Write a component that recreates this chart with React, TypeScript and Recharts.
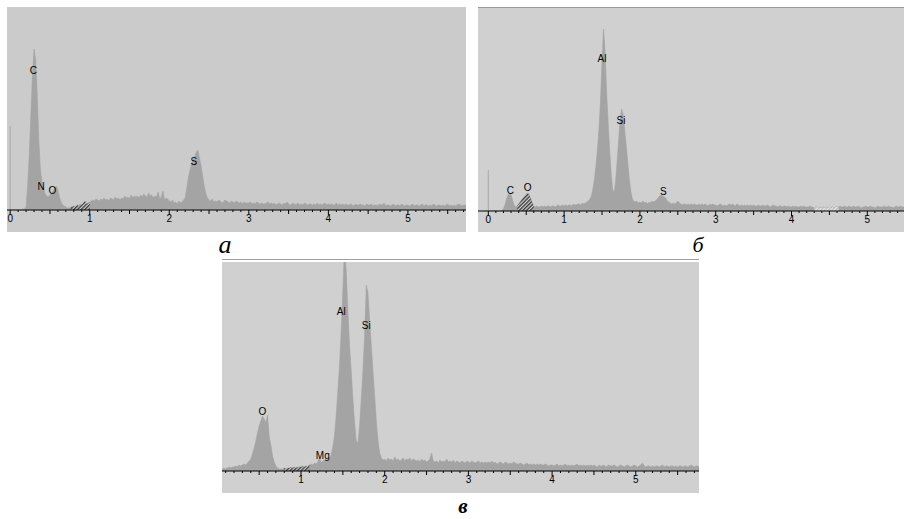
import { AreaChart, Area, XAxis, YAxis, ReferenceDot, ReferenceLine } from 'recharts'

// channel width of the spectra, keV
const STEP = 0.02

// а — counts per channel, 0.00 .. 5.78 keV (10 channels per row)
const countsA = [
  0, 0, 0, 0, 0, 0, 0, 0, 1, 1,
  3, 25, 55, 95, 135, 161, 150, 115, 70, 40,
  28, 22, 16, 14, 13, 15, 17, 19, 22, 24,
  20, 13, 8, 5, 4, 3, 2, 2, 3, 3,
  4, 3, 5, 4, 6, 5, 7, 9, 6, 7,
  8, 9, 10, 9, 11, 10, 9, 11, 10, 12,
  10, 11, 9, 12, 11, 10, 13, 11, 12, 10,
  12, 11, 14, 12, 13, 11, 15, 12, 14, 13,
  14, 12, 15, 13, 16, 14, 13, 17, 14, 15,
  12, 14, 13, 18, 11, 13, 19, 10, 12, 11,
  9, 8, 10, 7, 8, 6, 9, 7, 8, 10,
  12, 22, 32, 40, 46, 50, 54, 58, 60, 52,
  44, 34, 24, 16, 12, 10, 9, 11, 8, 9,
  8, 10, 9, 7, 8, 10, 9, 8, 7, 9,
  8, 7, 9, 8, 7, 8, 6, 8, 7, 7,
  7, 8, 6, 7, 6, 8, 7, 6, 7, 6,
  6, 7, 8, 6, 7, 6, 7, 5, 6, 7,
  6, 5, 7, 6, 8, 6, 5, 6, 7, 5,
  6, 7, 5, 6, 5, 7, 6, 5, 6, 6,
  5, 6, 5, 7, 5, 6, 5, 6, 7, 5,
  6, 5, 6, 5, 5, 7, 5, 6, 5, 6,
  5, 6, 5, 5, 6, 5, 4, 6, 5, 5,
  6, 5, 5, 4, 6, 5, 5, 6, 4, 5,
  5, 4, 6, 5, 5, 7, 4, 5, 5, 4,
  5, 6, 4, 5, 5, 4, 6, 5, 4, 5,
  5, 4, 5, 6, 4, 5, 5, 4, 5, 6,
  4, 5, 5, 4, 5, 4, 6, 5, 4, 5,
  5, 4, 5, 4, 5, 6, 4, 5, 4, 5,
  4, 5, 6, 5, 4, 5, 5, 4, 5, 5,
]

// б — 0.00 .. 5.58 keV
const countsB = [
  0, 0, 0, 0, 0, 0, 0, 0, 0, 1,
  2, 6, 12, 16, 18, 16, 11, 6, 4, 5,
  7, 9, 11, 13, 15, 17, 18, 16, 12, 8,
  5, 4, 5, 4, 4, 5, 4, 5, 4, 5,
  5, 4, 5, 5, 4, 5, 6, 5, 5, 6,
  5, 6, 5, 6, 6, 5, 7, 6, 6, 7,
  7, 6, 8, 7, 8, 9, 10, 12, 15, 22,
  32, 45, 62, 82, 110, 150, 182, 160, 120, 90,
  62, 38, 22, 18, 30, 50, 72, 92, 102, 96,
  80, 65, 48, 32, 20, 12, 10, 9, 10, 8,
  9, 8, 10, 8, 9, 7, 9, 8, 10, 9,
  10, 11, 13, 15, 16, 15, 14, 13, 10, 9,
  8, 7, 8, 7, 8, 10, 8, 7, 6, 7,
  7, 6, 7, 6, 7, 6, 7, 6, 6, 7,
  6, 7, 6, 7, 6, 5, 7, 6, 7, 6,
  6, 5, 6, 7, 6, 5, 6, 5, 6, 7,
  6, 7, 6, 5, 7, 6, 5, 6, 5, 6,
  5, 6, 5, 6, 5, 6, 5, 5, 6, 5,
  5, 6, 5, 5, 6, 5, 4, 5, 6, 5,
  5, 4, 5, 5, 4, 5, 5, 4, 5, 4,
  4, 5, 4, 5, 4, 4, 5, 4, 5, 4,
  4, 4, 5, 4, 4, 3, 4, 4, 3, 4,
  3, 4, 3, 4, 3, 4, 3, 4, 3, 4,
  4, 4, 5, 4, 4, 5, 4, 4, 5, 4,
  4, 5, 4, 4, 5, 4, 3, 4, 4, 5,
  4, 4, 5, 4, 4, 3, 4, 5, 4, 4,
  4, 5, 4, 4, 5, 4, 4, 3, 4, 5,
  4, 4, 5, 4, 4, 5, 4, 4, 5, 4,
]

// в — 0.00 .. 5.78 keV
const countsC = [
  0, 0, 0, 2, 3, 2, 3, 4, 3, 4,
  4, 5, 4, 6, 5, 6, 7, 6, 8, 10,
  12, 17, 23, 30, 38, 45, 50, 55, 52, 48,
  56, 34, 26, 15, 9, 5, 3, 2, 2, 2,
  3, 2, 3, 3, 4, 3, 4, 3, 4, 4,
  4, 5, 4, 5, 5, 6, 7, 6, 8, 7,
  9, 14, 8, 10, 11, 9, 12, 13, 16, 24,
  35, 55, 80, 105, 140, 180, 225, 200, 160, 125,
  100, 72, 48, 30, 28, 45, 72, 100, 135, 186,
  178, 150, 125, 100, 75, 50, 30, 18, 13, 11,
  12, 10, 13, 11, 12, 10, 14, 11, 12, 10,
  11, 13, 10, 12, 11, 13, 10, 12, 11, 10,
  11, 9, 12, 10, 11, 9, 10, 12, 18, 10,
  9, 10, 8, 11, 9, 10, 9, 12, 9, 10,
  9, 11, 8, 10, 9, 8, 10, 9, 8, 10,
  9, 8, 10, 9, 8, 9, 10, 8, 9, 8,
  9, 8, 9, 8, 10, 8, 9, 7, 8, 9,
  8, 7, 9, 8, 7, 8, 7, 9, 8, 7,
  7, 8, 7, 6, 7, 8, 6, 7, 6, 7,
  6, 7, 6, 7, 6, 6, 7, 6, 5, 6,
  6, 5, 6, 7, 5, 6, 5, 6, 7, 5,
  6, 5, 6, 5, 6, 7, 5, 6, 5, 6,
  5, 6, 5, 6, 5, 6, 5, 4, 6, 5,
  5, 6, 4, 5, 6, 5, 5, 6, 5, 4,
  5, 6, 5, 4, 5, 6, 5, 4, 5, 6,
  5, 4, 5, 6, 8, 5, 4, 5, 5, 4,
  5, 4, 5, 5, 4, 5, 6, 4, 5, 5,
  4, 5, 5, 4, 5, 4, 5, 5, 4, 5,
  5, 4, 5, 6, 5, 4, 5, 5, 4, 5,
]

// overlap regions (hatched), keV
const darkA: [number, number][] = [[0.76, 1.0]]
const darkB: [number, number][] = [[0.38, 0.6]]
const lightB: [number, number][] = [[4.3, 4.62]]
const darkC: [number, number][] = [[0.8, 1.1]]

// element markers: energy, height in counts
const peaksA = [
  { el: 'C', e: 0.29, c: 140 },
  { el: 'N', e: 0.39, c: 24 },
  { el: 'O', e: 0.53, c: 20 },
  { el: 'S', e: 2.31, c: 49 },
]
const peaksB = [
  { el: 'C', e: 0.29, c: 21 },
  { el: 'O', e: 0.52, c: 24 },
  { el: 'Al', e: 1.5, c: 153 },
  { el: 'Si', e: 1.75, c: 91 },
  { el: 'S', e: 2.31, c: 20 },
]
const peaksC = [
  { el: 'O', e: 0.54, c: 60 },
  { el: 'Mg', e: 1.26, c: 16 },
  { el: 'Al', e: 1.48, c: 160 },
  { el: 'Si', e: 1.78, c: 146 },
]

const majorTicks = [0, 1, 2, 3, 4, 5]

const FONT = '"Liberation Sans", Arial, sans-serif'
const SERIF = '"Liberation Serif", "Times New Roman", serif'

function buildRows(counts: number[], dark: [number, number][], light: [number, number][]) {
  const inside = (e: number, rs: [number, number][]) => rs.some(([a, b]) => e >= a - 1e-9 && e <= b + 1e-9)
  return counts.map((c, i) => {
    const e = Math.round(i * STEP * 100) / 100
    return { e, counts: c, dark: inside(e, dark) ? c : null, light: inside(e, light) ? c : null }
  })
}

function EnergyTick(props: any) {
  const { x, y, payload } = props
  const v = payload.value
  const major = majorTicks.includes(v)
  const half = !major && Math.abs(v * 2 - Math.round(v * 2)) < 1e-6
  const len = major ? 5 : half ? 4 : 2
  return (
    <g>
      <line x1={x} x2={x} y1={y} y2={y + len} stroke="#000" strokeWidth={1} />
      {major && (
        <text x={x} y={y + 12} textAnchor="middle" fontSize={10} fontFamily={FONT} fill="#000">
          {v}
        </text>
      )}
    </g>
  )
}

interface PanelProps {
  id: string
  left: number
  top: number
  width: number
  height: number
  axisHeight: number
  domain: [number, number]
  yMax: number
  bg: string
  counts: number[]
  dark: [number, number][]
  light: [number, number][]
  peaks: { el: string; e: number; c: number }[]
  strobe?: number
}

function Panel(p: PanelProps) {
  const data = buildRows(p.counts, p.dark, p.light)
  const ticks: number[] = []
  for (let k = 0; k <= 58; k++) {
    const t = k / 10
    if (t >= p.domain[0] && t <= p.domain[1]) ticks.push(t)
  }
  return (
    <div style={{ position: 'absolute', left: p.left, top: p.top, width: p.width, height: p.height, background: p.bg }}>
      <AreaChart width={p.width} height={p.height} data={data} margin={{ top: 0, right: 0, bottom: 0, left: 0 }}>
        <defs>
          <pattern id={`${p.id}-dark`} width="2.6" height="2.6" patternUnits="userSpaceOnUse" patternTransform="rotate(45)">
            <rect width="2.6" height="2.6" fill="#d4d4d4" />
            <line x1="0.7" y1="0" x2="0.7" y2="2.6" stroke="#3c3c3c" strokeWidth="1.4" />
          </pattern>
          <pattern id={`${p.id}-light`} width="2.6" height="2.6" patternUnits="userSpaceOnUse" patternTransform="rotate(45)">
            <rect width="2.6" height="2.6" fill="#e8e8e8" />
            <line x1="0.7" y1="0" x2="0.7" y2="2.6" stroke="#b8b8b8" strokeWidth="1.2" />
          </pattern>
        </defs>
        <XAxis
          dataKey="e"
          type="number"
          domain={p.domain}
          allowDataOverflow
          ticks={ticks}
          interval={0}
          height={p.axisHeight}
          tickSize={0}
          tickMargin={0}
          tickLine={false}
          axisLine={{ stroke: '#000', strokeWidth: 1 }}
          tick={<EnergyTick />}
        />
        <YAxis hide domain={[0, p.yMax]} allowDataOverflow />
        {p.strobe !== undefined && (
          <ReferenceLine
            segment={[{ x: 0, y: 0 }, { x: 0, y: p.strobe }]}
            stroke="#a8a8a8"
            strokeWidth={1}
          />
        )}
        <Area
          type="linear"
          dataKey="counts"
          stroke="#a2a2a2"
          strokeWidth={0.6}
          fill="#a4a4a4"
          fillOpacity={1}
          isAnimationActive={false}
          dot={false}
          activeDot={false}
        />
        <Area
          type="linear"
          dataKey="dark"
          stroke="none"
          fill={`url(#${p.id}-dark)`}
          fillOpacity={1}
          connectNulls={false}
          isAnimationActive={false}
          dot={false}
          activeDot={false}
        />
        <Area
          type="linear"
          dataKey="light"
          stroke="none"
          fill={`url(#${p.id}-light)`}
          fillOpacity={1}
          connectNulls={false}
          isAnimationActive={false}
          dot={false}
          activeDot={false}
        />
        {p.peaks.map((pk) => (
          <ReferenceDot
            key={pk.el}
            x={pk.e}
            y={pk.c}
            r={0}
            stroke="none"
            fill="none"
            label={{ value: pk.el, position: 'center', fill: '#000', fontSize: 10, fontFamily: FONT }}
          />
        ))}
      </AreaChart>
    </div>
  )
}

export default function App() {
  return (
    <div style={{ position: 'absolute', left: 0, top: 0, width: 904, height: 519, background: '#fff', overflow: 'hidden' }}>
      <Panel
        id="a"
        left={7}
        top={7}
        width={459}
        height={225}
        axisHeight={22}
        domain={[-0.04, 5.73]}
        yMax={203}
        bg="#cbcbcb"
        counts={countsA}
        dark={darkA}
        light={[]}
        peaks={peaksA}
        strobe={84}
      />
      <Panel
        id="b"
        left={478}
        top={8}
        width={426}
        height={224}
        axisHeight={21}
        domain={[-0.136, 5.484]}
        yMax={203}
        bg="#d0d0d0"
        counts={countsB}
        dark={darkB}
        light={lightB}
        peaks={peaksB}
        strobe={41}
      />
      <Panel
        id="c"
        left={222}
        top={262}
        width={477}
        height={231}
        axisHeight={22}
        domain={[0.056, 5.755]}
        yMax={209}
        bg="#d0d0d0"
        counts={countsC}
        dark={darkC}
        light={[]}
        peaks={peaksC}
      />
      <svg width={904} height={519} style={{ position: 'absolute', left: 0, top: 0, pointerEvents: 'none' }}>
        <line x1={478} x2={904} y1={7.5} y2={7.5} stroke="#9a9a9a" />
        <line x1={222} x2={699} y1={259.5} y2={259.5} stroke="#a0a0a0" />
        <text x={225} y={253} textAnchor="middle" fontSize={26} fontStyle="italic" fontFamily={SERIF}>
          а
        </text>
        <text x={698} y={252} textAnchor="middle" fontSize={22} fontStyle="italic" fontFamily={SERIF}>
          б
        </text>
        <text x={463} y={513} textAnchor="middle" fontSize={21} fontStyle="italic" fontWeight="bold" fontFamily={SERIF}>
          в
        </text>
      </svg>
    </div>
  )
}
